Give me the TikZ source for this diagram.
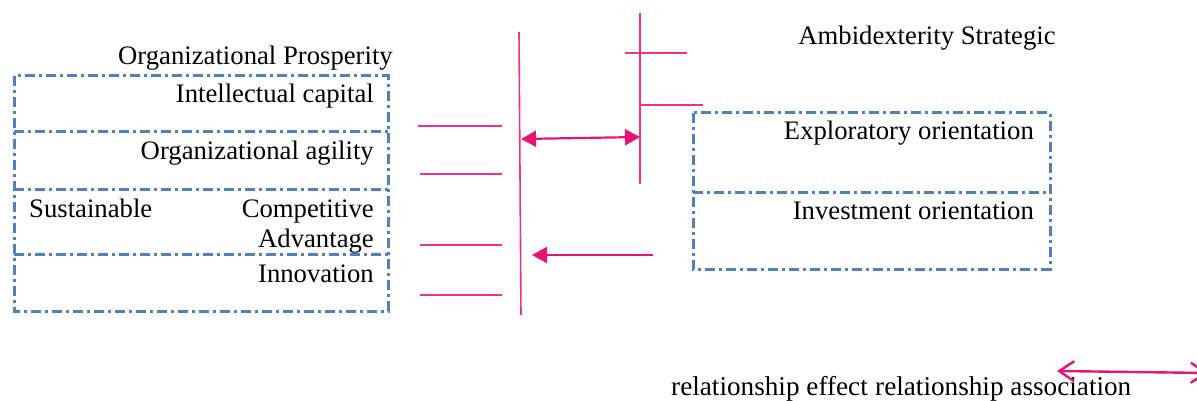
\documentclass[tikz,border=0pt]{standalone}
\usepackage{fontspec}
\setmainfont{Liberation Serif}
\usetikzlibrary{arrows.meta}
\definecolor{boxblue}{RGB}{79,129,189}
\definecolor{linkpink}{RGB}{240,50,135}
\definecolor{arrowpink}{RGB}{230,20,115}
\tikzset{
  frame/.style={draw=boxblue, line width=3pt,
    dash pattern=on 10pt off 4pt on 3pt off 4pt},
  label/.style={inner sep=0pt, font=\fontsize{26.7}{30}\selectfont},
  legendlabel/.style={inner sep=0pt, font=\fontsize{27.2}{31}\selectfont},
  tick/.style={draw=linkpink, line width=1.6pt},
  effect/.style={draw=arrowpink, line width=2.2pt,
    -{Triangle[length=15pt,width=16pt]}},
  assoc/.style={draw=arrowpink, line width=2.2pt,
    {Triangle[length=15pt,width=16pt]}-{Triangle[length=15pt,width=16pt]}},
  legendassoc/.style={draw=arrowpink, line width=2.4pt,
    {Straight Barb[length=15pt,width=20pt]}-{Straight Barb[length=15pt,width=20pt]}},
}
\begin{document}
\begin{tikzpicture}[x=1pt,y=-1pt]
\useasboundingbox (0,0) rectangle (1197,401);

% left block: organisational prosperity and its dimensions
\node[label, anchor=base east] (prosp) at (393,65) {Organizational Prosperity};
\draw[frame] (14,76) rectangle (388,311);
\draw[frame] (14,132) -- (388,132);
\draw[frame] (14,189) -- (388,189);
\draw[frame] (14,254) -- (388,254);
\node[label, anchor=base east] (intel) at (374,103) {Intellectual capital};
\node[label, anchor=base east] (agil) at (374,160) {Organizational agility};
\node[label, anchor=base west] (sust) at (29,217) {Sustainable};
\node[label, anchor=base east] (comp) at (374,217) {Competitive};
\node[label, anchor=base east] (adv) at (374,247) {Advantage};
\node[label, anchor=base east] (innov) at (374,282) {Innovation};

% right block: strategic ambidexterity
\node[label, anchor=base] (ambi) at (927,45) {Ambidexterity Strategic};
\draw[frame] (693,113) rectangle (1050,269);
\draw[frame] (693,192) -- (1050,192);
\node[label, anchor=base east] (explo) at (1034,140) {Exploratory orientation};
\node[label, anchor=base east] (invest) at (1034,219) {Investment orientation};

% bracket lines
\coordinate (lbarT) at (519,32);
\coordinate (lbarB) at (521,315);
\coordinate (rbarT) at (640,13);
\coordinate (rbarB) at (640,184);
\draw[tick] (lbarT) -- (lbarB);
\draw[tick] (rbarT) -- (rbarB);
\draw[tick] (418,126) -- (502,126);
\draw[tick] (420,174) -- (502,174);
\draw[tick] (420,245) -- (502,245);
\draw[tick] (420,295) -- (502,295);
\draw[tick] (625,53) -- (687,53);
\draw[tick] (640,105) -- (703,105);

% relationships
\coordinate (assocL) at (521,139);
\coordinate (assocR) at (640,137);
\draw[assoc] (assocL) -- (assocR);
\coordinate (effS) at (653,255);
\coordinate (effE) at (532,255);
\draw[effect] (effS) -- (effE);

% legend
\node[legendlabel, anchor=base west] (legeff) at (671,395) {relationship effect};
\node[legendlabel, anchor=base west] (legassoc) at (875,395) {relationship association};
\coordinate (legL) at (1057,371);
\coordinate (legR) at (1208,373);
\draw[legendassoc] (legL) -- (legR);
\end{tikzpicture}
\end{document}
